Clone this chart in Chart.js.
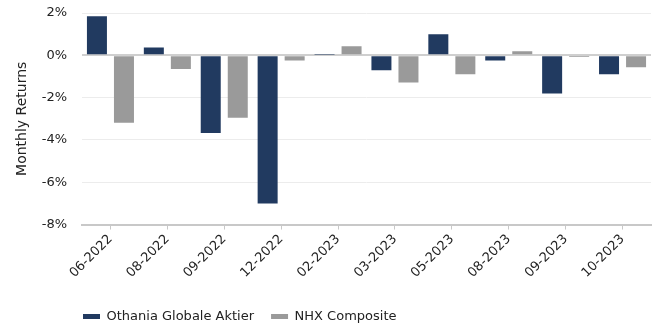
<!DOCTYPE html>
<html lang="en">
<head>
    <meta charset="UTF-8">
    <title>Monthly Returns</title>
    <script src="https://cdn.jsdelivr.net/npm/chart.js"></script>
    <style>
        body { margin: 0; background: #fff; }
    </style>
</head>
<body>
    <canvas id="returnsChart" width="663" height="329"></canvas>

    <script>
        const months = ['06-2022', '08-2022', '09-2022', '12-2022', '02-2023',
                        '03-2023', '05-2023', '08-2023', '09-2023', '10-2023'];
        const othania = [1.85, 0.37, -3.67, -7.0, 0.03, -0.71, 1.0, -0.25, -1.81, -0.89];
        const nhx = [-3.19, -0.65, -2.95, -0.25, 0.43, -1.29, -0.89, 0.19, -0.08, -0.56];
        const yTicks = [-8, -6, -4, -2, 0, 2];

        Chart.defaults.font.family = '"DejaVu Sans", Verdana, sans-serif';
        Chart.defaults.font.size = 13;
        Chart.defaults.color = '#222';

        // line the bottom legend up with the plot area and nudge it down
        const legendShift = {
            id: 'legendShift',
            afterLayout(chart) {
                const lg = chart.legend;
                const dx = chart.chartArea.left + 1 - lg.options.labels.padding - lg.left;
                lg.left += dx;
                lg.right += dx;
                lg.top += 10;
                lg.bottom += 10;
            }
        };

        const ctx = document.getElementById('returnsChart').getContext('2d');
        new Chart(ctx, {
            type: 'bar',
            data: {
                labels: months,
                datasets: [{
                    label: 'Othania Globale Aktier',
                    data: othania,
                    backgroundColor: '#213a60',
                    categoryPercentage: 0.95,
                    barPercentage: 0.74
                }, {
                    label: 'NHX Composite',
                    data: nhx,
                    backgroundColor: '#9a9a9a',
                    categoryPercentage: 0.95,
                    barPercentage: 0.74
                }]
            },
            options: {
                responsive: false,
                animation: false,
                layout: { padding: { top: 0, right: 12, left: 4, bottom: 6 } },
                plugins: {
                    tooltip: { enabled: false },
                    legend: {
                        position: 'bottom',
                        align: 'start',
                        labels: {
                            boxWidth: 17,
                            boxHeight: 5,
                            padding: 17,
                            color: '#222'
                        }
                    }
                },
                scales: {
                    x: {
                        grid: {
                            offset: false,
                            drawOnChartArea: false,
                            drawTicks: true,
                            tickLength: 5,
                            color: '#c8c8c8'
                        },
                        border: { display: true, color: '#c8c8c8', width: 2 },
                        ticks: {
                            minRotation: 45,
                            maxRotation: 45,
                            padding: 2
                        }
                    },
                    y: {
                        min: -8,
                        max: 2,
                        afterBuildTicks(axis) {
                            axis.ticks = yTicks.map(v => ({ value: v }));
                        },
                        afterFit(axis) {
                            axis.width = 78;
                            // tick padding would otherwise push the plot top down
                            axis.paddingTop = 13;
                        },
                        title: {
                            display: true,
                            text: 'Monthly Returns',
                            font: { size: 14 },
                            padding: { top: 10, bottom: 2 }
                        },
                        grid: {
                            drawTicks: false,
                            color: ctx => ctx.tick && ctx.tick.value === 0 ? '#cfcfcf' : '#ececec',
                            lineWidth: ctx => ctx.tick && ctx.tick.value === 0 ? 2 : 1
                        },
                        border: { display: false },
                        ticks: {
                            padding: 15,
                            callback: v => v + '%'
                        }
                    }
                }
            },
            plugins: [legendShift]
        });
    </script>
</body>
</html>
